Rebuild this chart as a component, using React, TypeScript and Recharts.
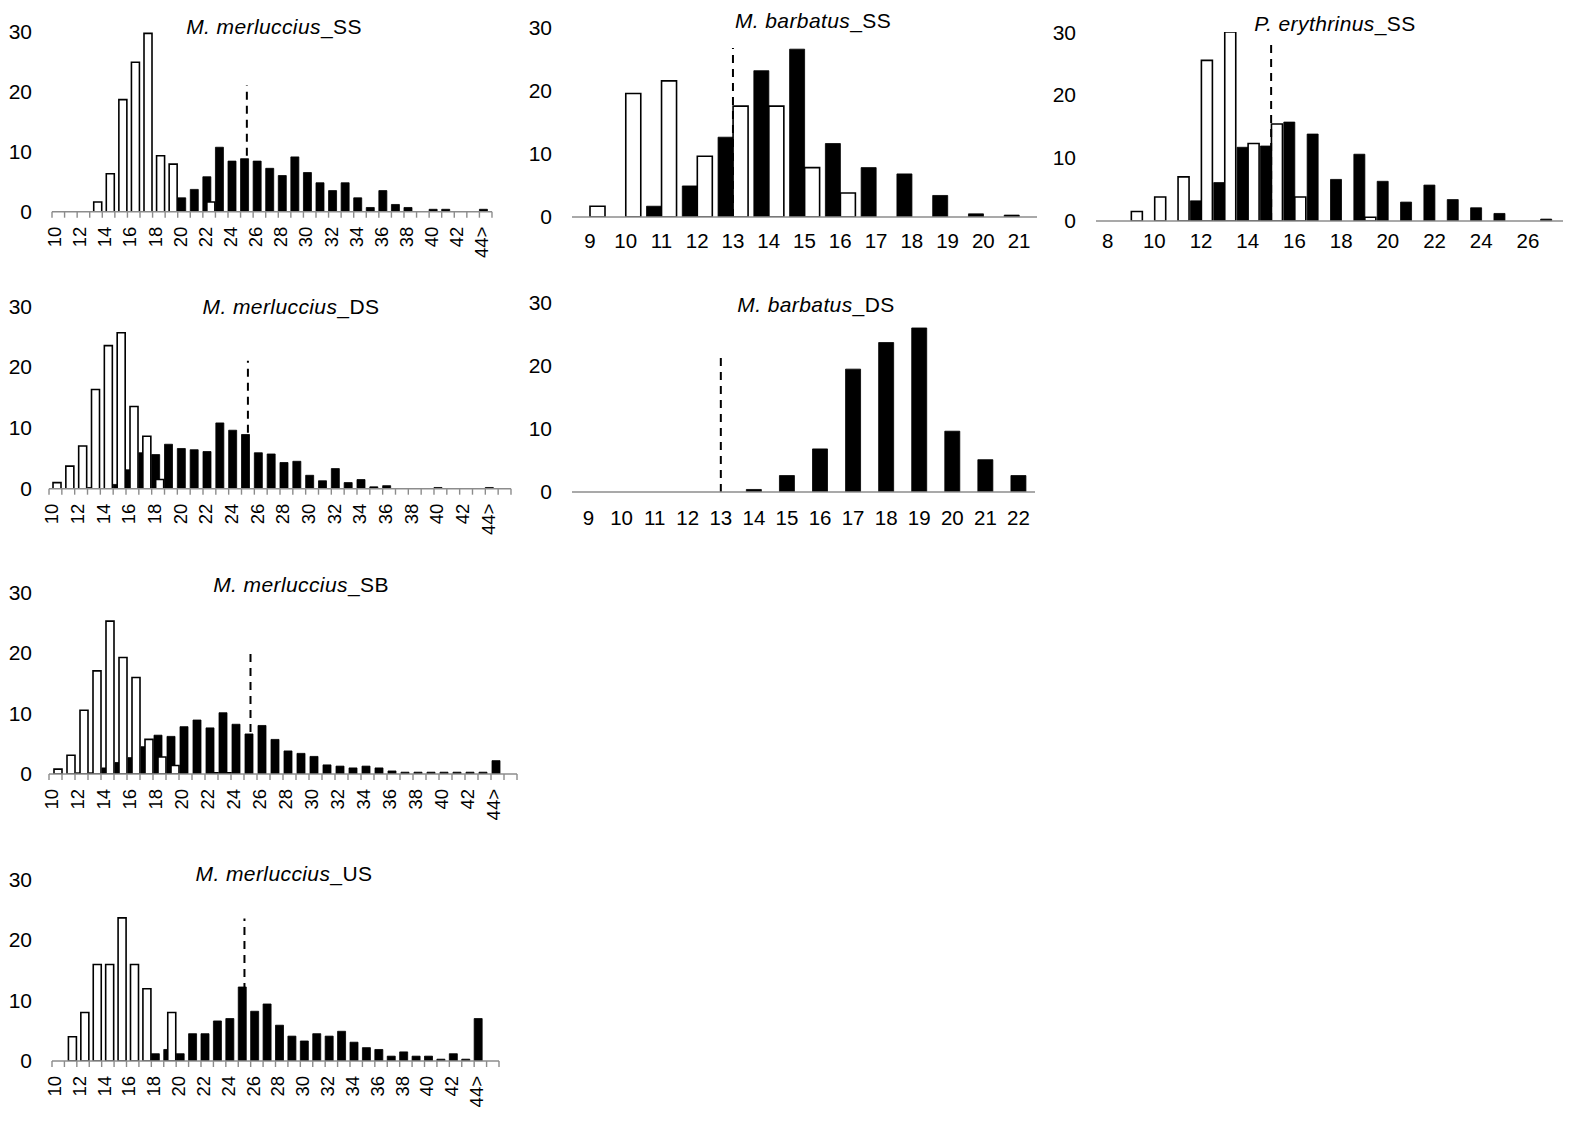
import React from 'react';
import { BarChart, Bar, XAxis, YAxis, ReferenceLine } from 'recharts';

const FONT = '"Liberation Sans", Arial, Helvetica, sans-serif';
const INK = '#000';
const AXIS_GREY = '#8c8c8c';

// length classes (cm)
const merLengths = ['10', '11', '12', '13', '14', '15', '16', '17', '18', '19', '20', '21', '22', '23', '24', '25', '26', '27', '28', '29', '30', '31', '32', '33', '34', '35', '36', '37', '38', '39', '40', '41', '42', '43', '44>'];
// DS, SB and US axes run one empty class past 44>
const merLengthsWide = [...merLengths, ' '];
const barSSLengths = ['9', '10', '11', '12', '13', '14', '15', '16', '17', '18', '19', '20', '21'];
const barDSLengths = ['9', '10', '11', '12', '13', '14', '15', '16', '17', '18', '19', '20', '21', '22'];
const eryLengths = ['8', '9', '10', '11', '12', '13', '14', '15', '16', '17', '18', '19', '20', '21', '22', '23', '24', '25', '26', '27'];

// % frequency, black bars = mature, white bars = immature
const merSSMature = [0, 0, 0, 0, 0, 0, 0, 0, 0, 0, 2.3, 3.7, 5.8, 10.7, 8.4, 8.8, 8.4, 7.2, 6.0, 9.1, 6.5, 4.8, 3.5, 4.8, 2.3, 0.7, 3.5, 1.2, 0.7, 0, 0.4, 0.4, 0, 0, 0.4];
const merSSImmature = [0, 0, 0, 1.6, 6.3, 18.6, 24.8, 29.6, 9.3, 7.9, 0, 0, 1.6, 0, 0, 0, 0, 0, 0, 0, 0, 0, 0, 0, 0, 0, 0, 0, 0, 0, 0, 0, 0, 0, 0];

const merDSMature = [0, 0, 0, 0.2, 0, 0.7, 3.1, 5.9, 5.6, 7.3, 6.6, 6.4, 6.1, 10.8, 9.6, 8.9, 5.9, 5.7, 4.3, 4.5, 2.2, 1.3, 3.3, 1.0, 1.5, 0.3, 0.5, 0, 0, 0, 0.2, 0, 0, 0, 0.2, 0];
const merDSImmature = [1.0, 3.7, 7.0, 16.3, 23.5, 25.6, 13.5, 8.6, 1.5, 0, 0, 0, 0, 0, 0, 0, 0, 0, 0, 0, 0, 0, 0, 0, 0, 0, 0, 0, 0, 0, 0, 0, 0, 0, 0, 0];

const merSBMature = [0, 0, 0.2, 0.2, 1.0, 1.9, 2.7, 4.5, 6.4, 6.2, 7.8, 8.9, 7.6, 10.1, 8.2, 6.6, 8.0, 5.7, 3.8, 3.4, 2.9, 1.5, 1.3, 1.0, 1.3, 1.0, 0.5, 0.3, 0.3, 0.3, 0.3, 0.3, 0.3, 0.3, 2.2, 0];
const merSBImmature = [0.8, 3.1, 10.5, 17.0, 25.2, 19.2, 15.9, 5.7, 2.8, 1.4, 0, 0, 0.2, 0.2, 0, 0, 0, 0, 0, 0, 0, 0, 0, 0, 0, 0, 0, 0, 0, 0, 0, 0, 0, 0, 0, 0];

const merUSMature = [0, 0, 0, 0, 0, 0, 0, 0, 1.2, 1.9, 1.2, 4.5, 4.5, 6.6, 7.0, 12.2, 8.2, 9.4, 5.9, 4.1, 3.3, 4.5, 4.1, 4.9, 3.1, 2.2, 1.9, 0.8, 1.5, 0.8, 0.8, 0.3, 1.2, 0.3, 7.0, 0];
const merUSImmature = [0, 4.0, 8.0, 15.9, 15.9, 23.6, 15.9, 11.9, 0, 8.0, 0, 0, 0, 0, 0, 0, 0, 0, 0, 0, 0, 0, 0, 0, 0, 0, 0, 0, 0, 0, 0, 0, 0, 0, 0, 0];

const barSSMature = [0, 0, 1.7, 4.9, 12.6, 23.1, 26.5, 11.6, 7.8, 6.8, 3.4, 0.5, 0.3];
const barSSImmature = [1.7, 19.5, 21.5, 9.6, 17.5, 17.5, 7.8, 3.8, 0, 0, 0, 0, 0];

const barDSMature = [0, 0, 0, 0, 0, 0.4, 2.6, 6.8, 19.4, 23.6, 25.9, 9.6, 5.1, 2.6];

const eryMature = [0, 0, 0, 0, 3.2, 6.1, 11.7, 11.9, 15.7, 13.8, 6.6, 10.6, 6.3, 3.0, 5.7, 3.4, 2.1, 1.2, 0, 0.3];
const eryImmature = [0, 1.5, 3.8, 7.0, 25.5, 30, 12.3, 15.4, 3.8, 0, 0, 0.6, 0, 0, 0, 0, 0, 0, 0, 0];

// dashed line: length class and height it reaches
const merSSMark = { len: '25', top: 21 };
const merDSMark = { len: '25', top: 21 };
const merSBMark = { len: '25', top: 20.3 };
const merUSMark = { len: '25', top: 23.5 };
const barSSMark = { len: '13', top: 26.7 };
const barDSMark = { len: '13', top: 21.4 };
const eryMark = { len: '15', top: 28.7 };

const Y_TICKS = [0, 10, 20, 30];

const toRows = (lens: string[], mature: number[], immature?: number[]) =>
  lens.map((len, i) => ({ len, mature: mature[i], immature: immature ? immature[i] : 0 }));

const titles = [
  { genus: 'M. merluccius', area: '_SS', x: 274, y: 34 },
  { genus: 'M. merluccius', area: '_DS', x: 291, y: 314 },
  { genus: 'M. merluccius', area: '_SB', x: 301, y: 592 },
  { genus: 'M. merluccius', area: '_US', x: 284, y: 881 },
  { genus: 'M. barbatus', area: '_SS', x: 813, y: 28 },
  { genus: 'M. barbatus', area: '_DS', x: 816, y: 312 },
  { genus: 'P. erythrinus', area: '_SS', x: 1335, y: 31 },
];

// rotated labels every 2nd class, tick marks between classes
const RotatedTick = (props: any) => {
  const { x, y, payload, index, band, last } = props;
  const edge = x - band / 2;
  const ly = y + 15;
  return (
    <g>
      <line x1={edge} x2={edge} y1={y} y2={y + 6} stroke={AXIS_GREY} strokeWidth={1.4} />
      {index === last && (
        <line x1={x + band / 2} x2={x + band / 2} y1={y} y2={y + 6} stroke={AXIS_GREY} strokeWidth={1.4} />
      )}
      {index % 2 === 0 && String(payload.value).trim() !== '' && (
        <text
          x={x}
          y={ly}
          transform={`rotate(-90, ${x}, ${ly})`}
          textAnchor="end"
          dy="0.15em"
          fontSize={18.5}
          fill={INK}
          fontFamily={FONT}
        >
          {payload.value}
        </text>
      )}
    </g>
  );
};

type PanelProps = {
  rows: { len: string; mature: number; immature: number }[];
  x0: number;
  x1: number;
  yTop: number;
  yZero: number;
  labelGap: number;
  barSize: number;
  barGap?: number;
  rotated?: boolean;
  interval?: number;
  labelOffset?: number;
  single?: boolean;
  mark: { len: string; top: number };
};

const Panel: React.FC<PanelProps> = ({
  rows, x0, x1, yTop, yZero, labelGap, barSize, barGap = 0, rotated, interval = 0, labelOffset = 14, single, mark,
}) => {
  const yw = 70;
  const mt = 12;
  const mr = 8;
  const xh = 64;
  const left = x0 - yw;
  const top = yTop - mt;
  const width = x1 - left + mr;
  const height = yZero - top + xh;
  const band = (x1 - x0) / rows.length;

  return (
    <div style={{ position: 'absolute', left, top }}>
      <BarChart
        width={width}
        height={height}
        data={rows}
        margin={{ top: mt, right: mr, bottom: 0, left: 0 }}
        barSize={barSize}
        barGap={barGap}
        barCategoryGap={0}
      >
        <XAxis
          dataKey="len"
          height={xh}
          interval={rotated ? 0 : interval}
          axisLine={{ stroke: AXIS_GREY, strokeWidth: 1.6 }}
          tickLine={false}
          tickSize={0}
          tickMargin={rotated ? 0 : labelOffset}
          tick={
            rotated
              ? (p: any) => <RotatedTick {...p} band={band} last={rows.length - 1} />
              : { fontSize: 20.5, fill: INK, fontFamily: FONT }
          }
        />
        <YAxis
          width={yw}
          domain={[0, 30]}
          ticks={Y_TICKS}
          allowDataOverflow
          axisLine={false}
          tickLine={false}
          tickSize={6}
          tickMargin={labelGap - 6}
          tick={{ fontSize: 21, fill: INK, fontFamily: FONT }}
        />
        <ReferenceLine
          segment={[{ x: mark.len, y: 0 }, { x: mark.len, y: mark.top }]}
          stroke="#000"
          strokeWidth={2}
          strokeDasharray="8 6"
        />
        <Bar dataKey="mature" fill="#000" stroke="#000" strokeWidth={0.8} isAnimationActive={false} />
        {!single && (
          <Bar dataKey="immature" fill="#fff" stroke="#000" strokeWidth={1.6} isAnimationActive={false} />
        )}
      </BarChart>
    </div>
  );
};

export default function App() {
  return (
    <div
      style={{
        position: 'absolute',
        left: 0,
        top: 0,
        width: 1575,
        height: 1134,
        background: '#fff',
        fontFamily: FONT,
      }}
    >
      <Panel rows={toRows(merLengths, merSSMature, merSSImmature)} x0={52} x1={492} yTop={31} yZero={211.7}
        labelGap={20} barSize={8} barGap={-4} rotated mark={merSSMark} />
      <Panel rows={toRows(merLengthsWide, merDSMature, merDSImmature)} x0={49} x1={511} yTop={305.6} yZero={488.3}
        labelGap={17} barSize={8} barGap={-4} rotated mark={merDSMark} />
      <Panel rows={toRows(merLengthsWide, merSBMature, merSBImmature)} x0={49} x1={517} yTop={592} yZero={774}
        labelGap={17} barSize={8} barGap={-4} rotated mark={merSBMark} />
      <Panel rows={toRows(merLengthsWide, merUSMature, merUSImmature)} x0={52} x1={499} yTop={878.7} yZero={1060.7}
        labelGap={20} barSize={8} barGap={-4} rotated mark={merUSMark} />
      <Panel rows={toRows(barSSLengths, barSSMature, barSSImmature)} x0={572} x1={1037} yTop={26.7} yZero={216.7}
        labelGap={20} barSize={15} labelOffset={16} mark={barSSMark} />
      <Panel rows={toRows(barDSLengths, barDSMature)} x0={572} x1={1035} yTop={301.7} yZero={491.7}
        labelGap={20} barSize={15} labelOffset={18} single mark={barDSMark} />
      <Panel rows={toRows(eryLengths, eryMature, eryImmature)} x0={1096} x1={1563} yTop={31.7} yZero={220.7}
        labelGap={20} barSize={11} labelOffset={12} interval={1} mark={eryMark} />

      <svg width={1575} height={1134} style={{ position: 'absolute', left: 0, top: 0, pointerEvents: 'none' }}>
        {titles.map((t) => (
          <text key={t.genus + t.area} x={t.x} y={t.y} textAnchor="middle" fontSize={21} letterSpacing={0.4}
            fill={INK} fontFamily={FONT}>
            <tspan fontStyle="italic">{t.genus}</tspan>
            <tspan>{t.area}</tspan>
          </text>
        ))}
      </svg>
    </div>
  );
}
